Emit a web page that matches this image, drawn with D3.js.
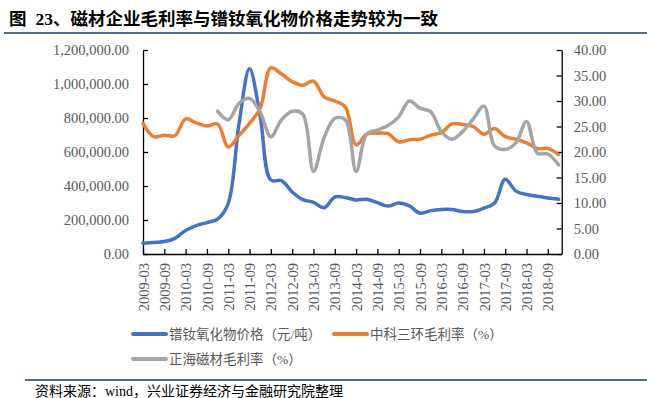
<!DOCTYPE html>
<html>
<head>
<meta charset="utf-8">
<script src="https://cdn.jsdelivr.net/npm/d3@7"></script>
<style>
  body { margin: 0; background: #fff; }
  svg { display: block; }
</style>
</head>
<body>
<div id="chart"></div>
<script>
// Quarter-end dates shared by all series
const quarters = [
    '2009-03','2009-06','2009-09','2009-12','2010-03','2010-06','2010-09','2010-12',
    '2011-03','2011-06','2011-09','2011-12','2012-03','2012-06','2012-09','2012-12',
    '2013-03','2013-06','2013-09','2013-12','2014-03','2014-06','2014-09','2014-12',
    '2015-03','2015-06','2015-09','2015-12','2016-03','2016-06','2016-09','2016-12',
    '2017-03','2017-06','2017-09','2017-12','2018-03','2018-06','2018-09','2018-12'
];

// 镨钕氧化物价格（元/吨）, left axis
const priceValues = [
    63000, 68000, 73000, 92000, 138000, 167000, 185000, 205000,
    298000, 760000, 1090000, 810000, 435000, 432000, 365000, 320000,
    304000, 272000, 335000, 332000, 318000, 322000, 302000, 282000,
    300000, 283000, 240000, 255000, 262000, 262000, 250000, 250000,
    270000, 300000, 440000, 370000, 350000, 340000, 330000, 322000
];

// 中科三环毛利率（%）, right axis
const zksgValues = [
    25.6, 23.0, 23.3, 23.2, 26.5, 25.7, 25.1, 25.5,
    21.0, 23.2, 25.6, 28.6, 36.5, 35.3, 33.8, 33.1,
    33.9, 30.8, 30.0, 28.8, 21.4, 23.5, 23.7, 23.6,
    22.0, 22.4, 22.5, 23.3, 23.8, 25.5, 25.4, 25.0,
    23.5, 24.6, 23.0, 22.5, 21.8, 20.7, 20.7, 19.5
];

// 正海磁材毛利率（%）, right axis, starts 2010-12
const zhengQuarters = quarters.slice(7);
const zhengValues = [
    28.0, 26.3, 29.5, 30.5, 27.8, 23.0, 26.3, 28.0,
    27.4, 16.2, 22.8, 26.6, 26.3, 16.2, 23.5, 24.3,
    25.2, 26.9, 30.0, 28.6, 27.9, 24.0, 22.5, 24.0,
    26.5, 29.0, 21.2, 20.5, 21.8, 26.0, 19.8, 19.6, 17.5
];

// Axis labels
const xTickLabels = [
    '2009-03','2009-09','2010-03','2010-09','2011-03','2011-09','2012-03','2012-09',
    '2013-03','2013-09','2014-03','2014-09','2015-03','2015-09','2016-03','2016-09',
    '2017-03','2017-09','2018-03','2018-09'
];
const leftTicks = [0, 200000, 400000, 600000, 800000, 1000000, 1200000];
const rightTicks = [0, 5, 10, 15, 20, 25, 30, 35, 40];

const seriesNames = ['镨钕氧化物价格（元/吨）', '中科三环毛利率（%）', '正海磁材毛利率（%）'];
const seriesColors = ['#4472C4', '#ED7D31', '#A5A5A5'];

// month index counted from 2009-03
const monthIndex = s => {
    const [yy, mm] = s.split('-').map(Number);
    return (yy - 2009) * 12 + (mm - 3);
};

const W = 647, H = 398;
const plot = { left: 143, right: 561.7, top: 50, bottom: 254 };

const svg = d3.select('#chart').append('svg')
    .attr('width', W)
    .attr('height', H)
    .style('background', '#fff');

const serif = '"Liberation Serif", "Noto Sans CJK SC", serif';
const cjk = '"Liberation Serif", "Noto Sans CJK SC", sans-serif';

// Title and rules
const title = svg.append('text')
    .attr('x', 9)
    .attr('y', 25)
    .style('font-family', cjk)
    .style('font-size', '17.5px')
    .style('font-weight', 'bold')
    .style('fill', '#000');
title.append('tspan').text('图');
title.append('tspan').attr('dx', 9).text('23、磁材企业毛利率与镨钕氧化物价格走势较为一致');

svg.append('line')
    .attr('x1', 4).attr('x2', W)
    .attr('y1', 33).attr('y2', 33)
    .attr('stroke', '#1F3864')
    .attr('stroke-width', 1.5);

svg.append('line')
    .attr('x1', 25).attr('x2', W)
    .attr('y1', 380).attr('y2', 380)
    .attr('stroke', '#1F3864')
    .attr('stroke-width', 1.5);

svg.append('text')
    .attr('x', 35)
    .attr('y', 396)
    .style('font-family', cjk)
    .style('font-size', '14px')
    .style('fill', '#000')
    .text('资料来源：wind，兴业证券经济与金融研究院整理');

// Scales
const x = d3.scaleLinear()
    .domain([0, 117.9])
    .range([plot.left, plot.right]);

const yLeft = d3.scaleLinear()
    .domain([0, 1200000])
    .range([plot.bottom, plot.top]);

const yRight = d3.scaleLinear()
    .domain([0, 40])
    .range([plot.bottom, plot.top]);

// X axis (ticks every 6 months, pointing up)
const xAxis = svg.append('g')
    .attr('class', 'x-axis')
    .attr('transform', `translate(0,${plot.bottom})`)
    .call(d3.axisBottom(x)
        .tickValues(xTickLabels.map(monthIndex))
        .tickFormat((d, i) => xTickLabels[i])
        .tickSizeInner(-5)
        .tickSizeOuter(0));

xAxis.selectAll('text')
    .attr('transform', 'rotate(-90)')
    .attr('x', -9)
    .attr('y', 0)
    .attr('dy', '0.35em')
    .style('text-anchor', 'end')
    .style('font-family', serif)
    .style('font-size', '14.5px')
    .style('fill', '#595959');

// Left axis
const leftAxis = svg.append('g')
    .attr('class', 'y-axis-left')
    .attr('transform', `translate(${plot.left},0)`)
    .call(d3.axisLeft(yLeft)
        .tickValues(leftTicks)
        .tickFormat(d3.format(',.2f'))
        .tickSizeInner(-5)
        .tickSizeOuter(0)
        .tickPadding(14));

leftAxis.selectAll('text')
    .style('font-family', serif)
    .style('font-size', '14.5px')
    .style('fill', '#595959');

// Right axis
const rightAxis = svg.append('g')
    .attr('class', 'y-axis-right')
    .attr('transform', `translate(${plot.right},0)`)
    .call(d3.axisRight(yRight)
        .tickValues(rightTicks)
        .tickFormat(d3.format('.2f'))
        .tickSizeInner(-5)
        .tickSizeOuter(0)
        .tickPadding(12));

rightAxis.selectAll('text')
    .style('font-family', serif)
    .style('font-size', '14.5px')
    .style('fill', '#595959');

svg.selectAll('.domain, .tick line')
    .attr('stroke', '#000')
    .attr('stroke-width', 1.3);

// Lines
const lineLeft = d3.line()
    .x(d => x(monthIndex(d.date)))
    .y(d => yLeft(d.value))
    .curve(d3.curveCatmullRom.alpha(0.5));

const lineRight = d3.line()
    .x(d => x(monthIndex(d.date)))
    .y(d => yRight(d.value))
    .curve(d3.curveCatmullRom.alpha(0.5));

const series = [
    { dates: quarters, values: priceValues, line: lineLeft },
    { dates: quarters, values: zksgValues, line: lineRight },
    { dates: zhengQuarters, values: zhengValues, line: lineRight }
];

series.forEach((s, i) => {
    const pts = s.dates.map((d, j) => ({ date: d, value: s.values[j] }));
    svg.append('path')
        .datum(pts)
        .attr('d', s.line)
        .attr('fill', 'none')
        .attr('stroke', seriesColors[i])
        .attr('stroke-width', 3.5)
        .attr('stroke-linejoin', 'round')
        .attr('stroke-linecap', 'round');
});

// Legend
const legendPos = [
    { x: 133, y: 334 },
    { x: 334, y: 334 },
    { x: 133, y: 359 }
];

seriesNames.forEach((name, i) => {
    const g = svg.append('g')
        .attr('class', 'legend-item')
        .attr('transform', `translate(${legendPos[i].x},${legendPos[i].y})`);

    g.append('line')
        .attr('x1', 0).attr('x2', 33)
        .attr('y1', 0).attr('y2', 0)
        .attr('stroke', seriesColors[i])
        .attr('stroke-width', 4)
        .attr('stroke-linecap', 'round');

    g.append('text')
        .attr('x', 36)
        .attr('y', 0)
        .attr('dy', '0.35em')
        .style('font-family', cjk)
        .style('font-size', '13.5px')
        .style('fill', '#595959')
        .text(name);
});
</script>
</body>
</html>
